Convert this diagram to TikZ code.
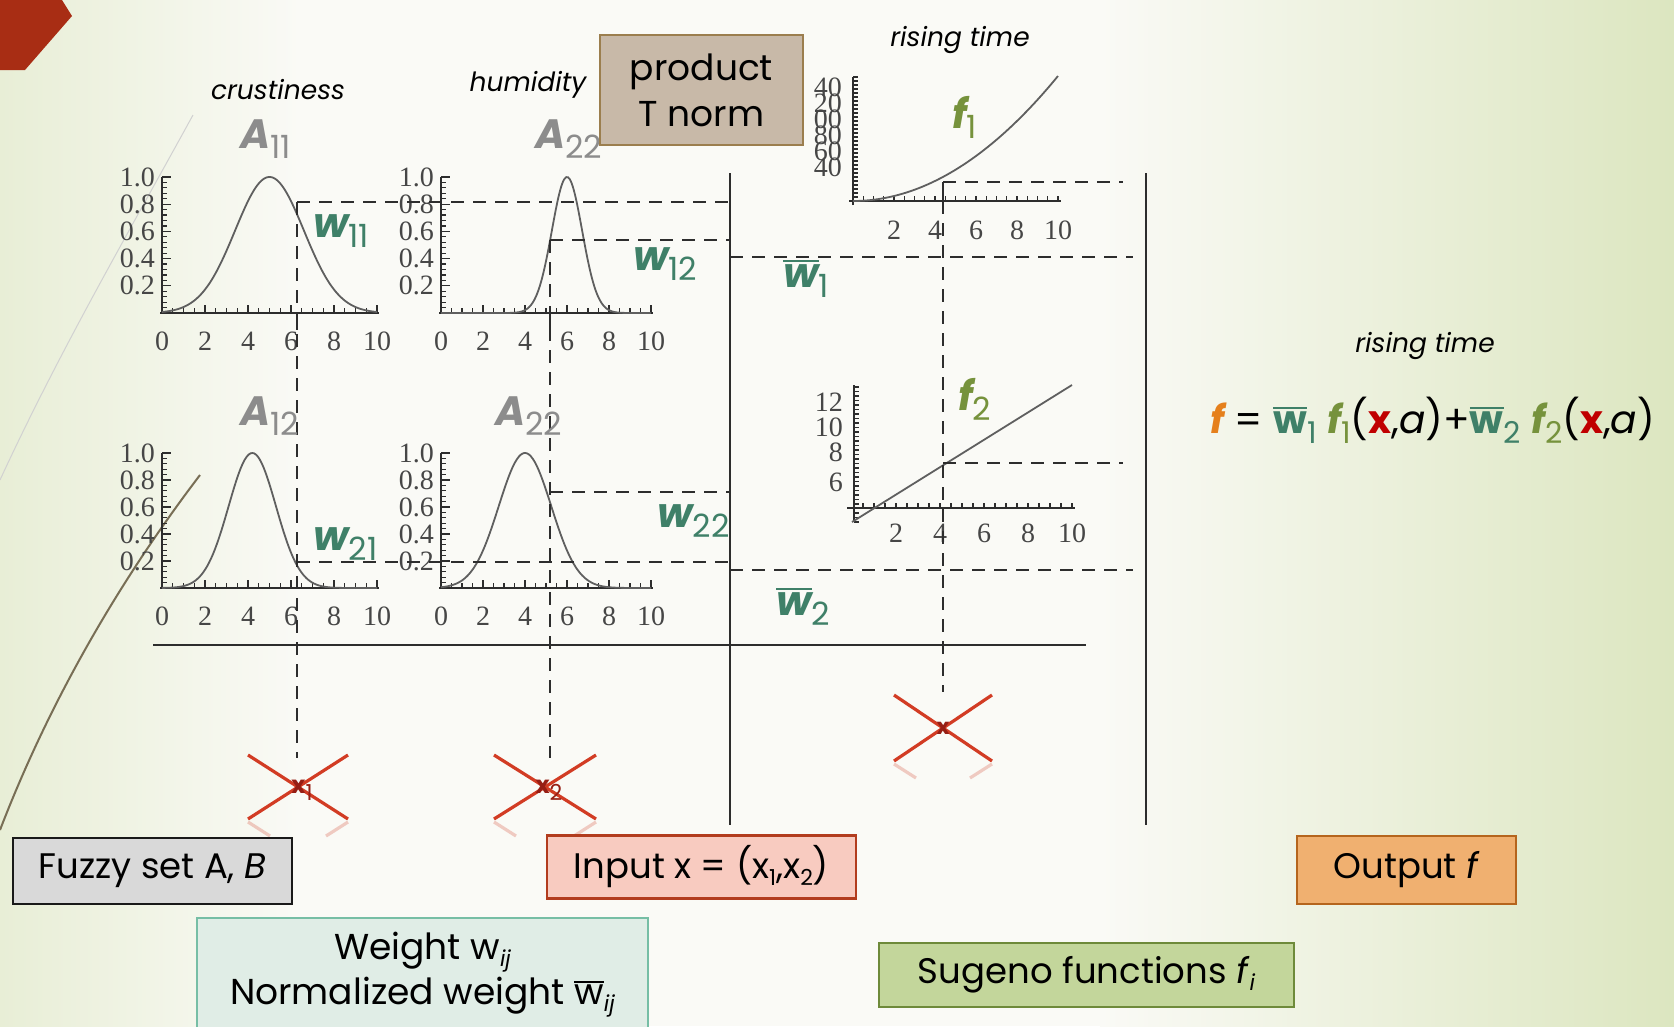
\documentclass[tikz,border=0pt]{standalone}
\usepackage{fontspec}
\setmainfont{Poppins}
\newfontfamily\tickfont{Liberation Serif}
\definecolor{bgL}{RGB}{232,238,214}
\definecolor{bgW}{RGB}{250,250,246}
\definecolor{bgR}{RGB}{220,230,192}
\definecolor{wteal}{RGB}{63,128,104}
\definecolor{folive}{RGB}{118,146,60}
\definecolor{forange}{RGB}{229,128,28}
\definecolor{xred}{RGB}{192,0,0}
\definecolor{agrey}{RGB}{140,140,140}
\definecolor{crossred}{RGB}{210,60,36}
\definecolor{crossdark}{RGB}{150,30,20}
\definecolor{plotgrey}{RGB}{95,95,95}
\definecolor{axisc}{RGB}{45,45,45}
\definecolor{tickc}{RGB}{70,70,70}
\definecolor{decred}{RGB}{168,45,20}
\definecolor{decline}{RGB}{120,110,85}
\definecolor{fuzzyfill}{RGB}{217,217,217}
\definecolor{inputfill}{RGB}{248,203,192}
\definecolor{inputdraw}{RGB}{178,60,30}
\definecolor{weightfill}{RGB}{224,237,230}
\definecolor{weightdraw}{RGB}{118,190,165}
\definecolor{outfill}{RGB}{240,176,112}
\definecolor{outdraw}{RGB}{181,101,29}
\definecolor{sugfill}{RGB}{195,214,155}
\definecolor{sugdraw}{RGB}{110,138,58}
\definecolor{prodfill}{RGB}{200,185,168}
\definecolor{proddraw}{RGB}{155,126,78}

\newcommand\ovw[1]{\leavevmode\vbox{\hrule height 2.5pt\kern 2pt\hbox{#1}}}
\newcommand\subA[1]{{\fontsize{32}{32}\selectfont\mdseries\upshape\raisebox{-10pt}{#1}}}
\newcommand\subS[1]{{\fontsize{22}{22}\selectfont\mdseries\upshape\raisebox{-7pt}{#1}}}
\newcommand\subF[1]{{\fontsize{30}{30}\selectfont\mdseries\upshape\raisebox{-10pt}{#1}}}
\newcommand\bigAfont{\fontsize{41}{41}\selectfont\bfseries\itshape}
\newcommand\wfont{\fontsize{41}{41}\selectfont\bfseries\itshape}

% membership plot: ox, oy, ux, uy, mu, sigma
\newcommand\mfplot[6]{%
\begin{scope}[shift={(#1,#2)}]
 \foreach \k in {1,...,25}{\draw[tickl] (0,{-\k*#4/25}) -- (5,{-\k*#4/25});}
 \foreach \k in {1,...,5}{\draw[tickl] (0,{-\k*#4/5}) -- (9,{-\k*#4/5});}
 \foreach \k in {1,...,20}{\draw[tickl] ({\k*#3/2},0) -- ({\k*#3/2},-5);}
 \foreach \k in {1,...,5}{\draw[tickl] ({\k*#3*2},0) -- ({\k*#3*2},-8);}
 \draw[axisl] (0,0) -- (0,{-1.0*#4});
 \draw[axisl] (-2,0) -- ({10*#3+2},0);
 \foreach \v/\t in {0.2/0.2,0.4/0.4,0.6/0.6,0.8/0.8,1/1.0}{\node[ticklab,anchor=east] at (-6,{-\v*#4}) {\t};}
 \foreach \t in {0,2,4,6,8,10}{\node[ticklab] at ({\t*#3},28) {\t};}
 \draw[curvel] plot[domain=0:10,samples=120,smooth] ({\x*#3},{-#4*exp(max(-8,0-(\x-#5)*(\x-#5)/(2*#6*#6)))});
\end{scope}}

\begin{document}
\begin{tikzpicture}[x=1pt,y=-1pt,
  axisl/.style={line width=2.6pt,draw=axisc},
  tickl/.style={line width=1.2pt,draw=axisc},
  curvel/.style={line width=1.8pt,draw=plotgrey},
  dashl/.style={line width=2pt,draw=axisc,dash pattern=on 13pt off 9pt},
  solidl/.style={line width=2.4pt,draw=axisc},
  ticklab/.style={font=\tickfont\fontsize{28}{28}\selectfont,text=tickc,inner sep=1pt},
  ital/.style={font=\fontsize{26.5}{26.5}\selectfont\itshape,inner sep=0pt},
  boxn/.style={line width=2.5pt,inner sep=0pt,font=\fontsize{35.5}{35.5}\selectfont},
  crossl/.style={line width=3.2pt,draw=crossred},
  lbl/.style={anchor=base west,inner sep=0pt}
]
\useasboundingbox (0,0) rectangle (1674,1026);
\clip (0,0) rectangle (1674,1026);
% background
\shade[left color=bgL,right color=bgW] (0,0) rectangle (300,1026);
\fill[bgW] (299,0) rectangle (1101,1026);
\shade[left color=bgW,right color=bgR] (1100,0) rectangle (1674,1026);
% decoration
\fill[decred] (0,0) -- (62,0) -- (72,16) -- (25,70) -- (0,70) -- cycle;
\draw[line width=2pt,draw=decline] (0,830) .. controls (50,700) and (120,580) .. (200,475);
\draw[line width=1pt,draw=black!18] (0,480) .. controls (60,350) and (130,230) .. (193,115);

% membership plots
\mfplot{162}{313}{21.5}{136}{5}{1.6}
\mfplot{441}{313}{21}{136}{6}{0.72}
\mfplot{162}{588}{21.5}{135}{4.2}{1.1}
\mfplot{441}{588}{21}{135}{4}{1.25}

% f1 plot
\begin{scope}[shift={(853,201)}]
 \foreach \k in {1,...,31}{\draw[tickl] (0,{-\k*4}) -- (5,{-\k*4});}
 \foreach \k in {1,...,20}{\draw[tickl] ({\k*10.25},0) -- ({\k*10.25},-5);}
 \draw[axisl] (0,4) -- (0,-124);
 \draw[axisl] (-4,0) -- (208,0);
 \foreach \t in {2,4,6,8,10}{\node[ticklab] at ({\t*20.5},29) {\t};}
 \foreach \t/\yy in {40/-114,20/-98,00/-82,80/-66,60/-50,40/-34}{\node[ticklab,anchor=east] at (-10,\yy) {\t};}
 \draw[curvel] plot[domain=0:10,samples=60,smooth] ({\x*20.5},{-1.25*\x*\x});
\end{scope}

% f2 plot
\begin{scope}[shift={(852,508)}]
 \foreach \k in {0,...,30}{\draw[tickl] (2,{14-\k*4.5}) -- (7,{14-\k*4.5});}
 \foreach \k in {1,...,20}{\draw[tickl] ({\k*11},0) -- ({\k*11},-5);}
 \draw[axisl] (2,14) -- (2,-123);
 \draw[axisl] (-5,0) -- (223,0);
 \foreach \t in {2,4,6,8,10}{\node[ticklab] at ({\t*22},25) {\t};}
 \foreach \t/\yy in {12/-106,10/-81,8/-56,6/-26}{\node[ticklab,anchor=east] at (-8,\yy) {\t};}
 \draw[curvel] (0,14) -- (220,-123);
\end{scope}

% key points
\coordinate (p11) at (297,202);
\coordinate (p12) at (550,240);
\coordinate (p21) at (297,562);
\coordinate (p22) at (550,492);
\coordinate (x1top) at (297,758);
\coordinate (x2top) at (550,758);
\coordinate (L1top) at (730,173);
\coordinate (L1bot) at (730,825);
\coordinate (L2top) at (1146,173);
\coordinate (L2bot) at (1146,825);
\coordinate (f1pt) at (943,182);
\coordinate (f2pt) at (943,463);
\coordinate (ytop) at (943,201);
\coordinate (ybot) at (943,692);

% dashed guide lines
\draw[dashl] (p11) -- (p11 -| L1top);
\draw[dashl] (p11) -- (x1top);
\draw[dashl] (p12) -- (p12 -| L1top);
\draw[dashl] (p12) -- (x2top);
\draw[dashl] (p22) -- (p22 -| L1top);
\draw[dashl] (p21) -- (p21 -| L1top);
\draw[dashl] (730,257) -- (1133,257);
\draw[dashl] (730,570) -- (1133,570);
\draw[dashl] (f1pt) -- (1123,182);
\draw[dashl] (f2pt) -- (1123,463);
\draw[line width=2pt,draw=axisc] (f1pt) -- (ytop);
\draw[dashl] (ytop) -- (ybot);
\draw[line width=2pt,draw=axisc] (297,313) -- (297,330);
\draw[line width=2pt,draw=axisc] (550,313) -- (550,330);

% solid lines
\draw[solidl] (L1top) -- (L1bot);
\draw[solidl] (L2top) -- (L2bot);
\draw[solidl] (153,645) -- (1086,645);

% crosses
\foreach \cx/\cy/\hw/\hh in {298/787/50/32, 545/787/51/32, 943/728/49/33}{
  \draw[crossl] (\cx-\hw,\cy-\hh) -- (\cx+\hw,\cy+\hh);
  \draw[crossl] (\cx-\hw,\cy+\hh) -- (\cx+\hw,\cy-\hh);
  \draw[crossl,opacity=0.25] (\cx-\hw,\cy+\hh+3) -- (\cx-\hw+22,\cy+\hh+17);
  \draw[crossl,opacity=0.25] (\cx+\hw,\cy+\hh+3) -- (\cx+\hw-22,\cy+\hh+17);
}
\node[text=crossdark,font=\fontsize{24}{24}\selectfont\bfseries,inner sep=0pt] (x1lab) at (302,790) {x\subS{1}};
\node[text=crossdark,font=\fontsize{24}{24}\selectfont\bfseries,inner sep=0pt] (x2lab) at (549,790) {x\subS{2}};
\node[text=crossdark,font=\fontsize{22}{22}\selectfont\bfseries,inner sep=0pt] (ylab) at (943,728) {x};

% titles
\node[ital] (crust) at (278,90) {crustiness};
\node[ital] (humid) at (528,85) {humidity};
\node[ital] (rise1) at (960,40) {rising time};
\node[ital] (rise2) at (1425,346) {rising time};

% fuzzy set labels
\node[lbl,text=agrey] (A11) at (240,148) {{\bigAfont A}\subA{11}};
\node[lbl,text=agrey] (A22a) at (535,148) {{\bigAfont A}\subA{22}};
\node[lbl,text=agrey] (A12) at (240,425) {{\bigAfont A}\subA{12}};
\node[lbl,text=agrey] (A22b) at (495,425) {{\bigAfont A}\subA{22}};

% weights
\node[lbl,text=wteal] (w11) at (313,237) {{\wfont w}\subA{11}};
\node[lbl,text=wteal] (w12) at (633,270) {{\wfont w}\subA{12}};
\node[lbl,text=wteal] (w21) at (313,550) {{\wfont w}\subA{21}};
\node[lbl,text=wteal] (w22) at (657,527) {{\wfont w}\subA{22}};
\node[lbl,text=wteal] (wb1) at (783,287) {\ovw{\wfont w}\subA{1}};
\node[lbl,text=wteal] (wb2) at (776,615) {\ovw{\wfont w}\subA{2}};

% sugeno labels
\node[lbl,text=folive] (f1) at (952,128) {{\wfont f}\subA{1}};
\node[lbl,text=folive] (f2) at (958,410) {{\wfont f}\subA{2}};

% formula
\node[lbl,font=\fontsize{39}{39}\selectfont] (form) at (1210,433) {\textcolor{forange}{\bfseries\itshape f} = {\color{wteal}\ovw{\bfseries w}\subF{1}} {\color{folive}\bfseries\itshape f\subF{1}}(\textcolor{xred}{\bfseries x},\textit{a})+{\color{wteal}\ovw{\bfseries w}\subF{2}} {\color{folive}\bfseries\itshape f\subF{2}}(\textcolor{xred}{\bfseries x},\textit{a})};

% boxes
\node[boxn,draw=proddraw,fill=prodfill,minimum width=203pt,minimum height=110pt,align=center,font=\fontsize{36}{46}\selectfont] (prod) at (701.5,90) {product\\T norm};
\node[boxn,draw=black!90,fill=fuzzyfill,minimum width=279pt,minimum height=66pt] (fuzzy) at (152.5,871) {Fuzzy set A, \textit{B}};
\node[boxn,draw=inputdraw,fill=inputfill,minimum width=309pt,minimum height=63pt] (input) at (701.5,867) {Input x = (x\subS{1},x\subS{2})};
\node[boxn,draw=weightdraw,fill=weightfill,minimum width=451pt,minimum height=122pt] (weight) at (422.5,979) {};
\node[align=center,font=\fontsize{36}{45}\selectfont,inner sep=0pt] (weighttxt) at (422.5,975) {Weight w\subS{\itshape ij}\\Normalized weight \ovw{w}\subS{\itshape ij}};
\node[boxn,draw=outdraw,fill=outfill,minimum width=219pt,minimum height=68pt] (output) at (1406.5,870) {Output \textit{f}};
\node[boxn,draw=sugdraw,fill=sugfill,minimum width=415pt,minimum height=64pt] (sugeno) at (1086.5,975) {Sugeno functions \textit{f}\subS{\itshape i}};
\end{tikzpicture}
\end{document}
